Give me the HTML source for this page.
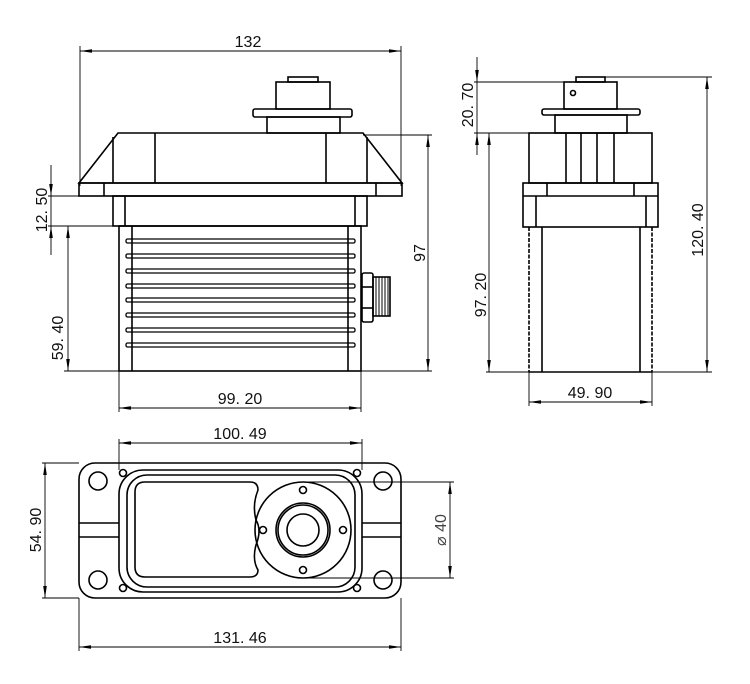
<!DOCTYPE html>
<html><head><meta charset="utf-8"><style>
html,body{margin:0;padding:0;background:#fff}
svg{display:block}
text{font-family:"Liberation Sans","DejaVu Sans",sans-serif;font-size:16px;fill:#111}
</style></head><body>
<svg width="750" height="684" viewBox="0 0 750 684" xmlns="http://www.w3.org/2000/svg">
<defs>
<marker id="a" viewBox="0 0 12 6" refX="12" refY="3" markerWidth="12" markerHeight="6" orient="auto-start-reverse" markerUnits="userSpaceOnUse"><path d="M0,1.2 L12,3 L0,4.8 Z" fill="#000"/></marker>
</defs>
<g fill="none" stroke="#000" stroke-width="1.6">
<!-- FRONT VIEW -->
<rect x="288" y="77" width="30" height="5"/>
<rect x="276" y="82" width="54" height="27"/>
<rect x="253" y="109" width="99" height="8" rx="2"/>
<rect x="267" y="117" width="73" height="16"/>
<path d="M118,133 L363,133 L402,183 L79,183 Z"/>
<line x1="113" y1="137" x2="113" y2="183"/><line x1="155" y1="133" x2="155" y2="183"/>
<line x1="326" y1="133" x2="326" y2="183"/><line x1="367" y1="137" x2="367" y2="183"/>
<rect x="79" y="183" width="323" height="13"/>
<line x1="104" y1="183" x2="104" y2="196"/><line x1="376" y1="183" x2="376" y2="196"/>
<rect x="113" y="196" width="254" height="30"/>
<line x1="125" y1="196" x2="125" y2="226"/><line x1="355" y1="196" x2="355" y2="226"/>
<rect x="119" y="226" width="242" height="145"/>
<line x1="132" y1="226" x2="132" y2="371"/><line x1="348" y1="226" x2="348" y2="371"/>
<g stroke-width="1.3">
<rect x="126" y="239" width="229" height="4" rx="1.5"/>
<rect x="126" y="254" width="229" height="4" rx="1.5"/>
<rect x="126" y="269" width="229" height="4" rx="1.5"/>
<rect x="126" y="284" width="229" height="4" rx="1.5"/>
<rect x="126" y="298" width="229" height="4" rx="1.5"/>
<rect x="126" y="313" width="229" height="4" rx="1.5"/>
<rect x="126" y="328" width="229" height="4" rx="1.5"/>
<rect x="126" y="343" width="229" height="4" rx="1.5"/>
</g>
<rect x="362" y="273" width="11" height="49" rx="2"/>
<line x1="362" y1="287" x2="373" y2="287"/><line x1="362" y1="308" x2="373" y2="308"/>
<rect x="373" y="277" width="17" height="39"/>
<g stroke-width="1">
<line x1="376" y1="277" x2="376" y2="316"/><line x1="379" y1="277" x2="379" y2="316"/>
<line x1="382" y1="277" x2="382" y2="316"/><line x1="385" y1="277" x2="385" y2="316"/>
<line x1="388" y1="277" x2="388" y2="316"/>
</g>
<!-- SIDE VIEW -->
<rect x="576" y="77" width="29" height="5"/>
<rect x="564" y="82" width="53" height="27"/>
<circle cx="573" cy="93" r="2.5"/>
<rect x="542" y="109" width="98" height="6" rx="2"/>
<rect x="555" y="115" width="72" height="18"/>
<rect x="529" y="133" width="123" height="50"/>
<line x1="566" y1="133" x2="566" y2="183"/><line x1="581" y1="133" x2="581" y2="183"/>
<line x1="597" y1="133" x2="597" y2="183"/><line x1="614" y1="133" x2="614" y2="183"/>
<rect x="523" y="183" width="135" height="44"/>
<line x1="523" y1="196" x2="658" y2="196"/>
<line x1="547" y1="183" x2="547" y2="196"/><line x1="634" y1="183" x2="634" y2="196"/>
<line x1="536" y1="196" x2="536" y2="227"/><line x1="646" y1="196" x2="646" y2="227"/>
<line x1="529" y1="372" x2="652" y2="372"/>
<line x1="529" y1="227" x2="529" y2="372" stroke-dasharray="4 1.5"/>
<line x1="652" y1="227" x2="652" y2="372" stroke-dasharray="4 1.5"/>
<line x1="542" y1="227" x2="542" y2="372"/><line x1="640" y1="227" x2="640" y2="372"/>
<!-- BOTTOM VIEW -->
<rect x="79" y="463" width="322" height="135" rx="16"/>
<circle cx="98" cy="481" r="9"/><circle cx="98" cy="580" r="9"/>
<circle cx="383" cy="481" r="9"/><circle cx="383" cy="580" r="9"/>
<circle cx="123" cy="473" r="3.5"/><circle cx="123" cy="588" r="3.5"/>
<circle cx="357" cy="473" r="3.5"/><circle cx="357" cy="588" r="3.5"/>
<rect x="119" y="470" width="243" height="122" rx="24"/>
<rect x="127" y="475" width="228" height="112" rx="20"/>
<path d="M145,482 L250,482 Q258,482 258,490 Q252,505 256,520 Q262,530 256,545 Q252,560 258,570 Q258,577 250,577 L145,577 Q135,577 135,567 L135,492 Q135,482 145,482 Z"/>
<line x1="79" y1="523" x2="119" y2="523"/><line x1="79" y1="537" x2="119" y2="537"/>
<line x1="362" y1="523" x2="401" y2="523"/><line x1="362" y1="537" x2="401" y2="537"/>
<circle cx="303" cy="530" r="48"/>
<circle cx="303" cy="530" r="27"/>
<circle cx="303" cy="530" r="25"/>
<circle cx="303" cy="530" r="16"/>
<circle cx="303" cy="490" r="3.5"/><circle cx="303" cy="570" r="3.5"/>
<circle cx="263" cy="530" r="3.5"/><circle cx="343" cy="530" r="3.5"/>
</g>
<!-- DIMENSIONS -->
<g fill="none" stroke="#000" stroke-width="0.9">
<line x1="80" y1="46" x2="80" y2="186"/><line x1="401" y1="46" x2="401" y2="186"/>
<line x1="80" y1="51" x2="401" y2="51" marker-start="url(#a)" marker-end="url(#a)"/>
<line x1="363" y1="135" x2="432" y2="135"/><line x1="361" y1="371" x2="432" y2="371"/>
<line x1="428" y1="135" x2="428" y2="371" marker-start="url(#a)" marker-end="url(#a)"/>
<line x1="119" y1="371" x2="119" y2="412"/><line x1="361" y1="371" x2="361" y2="412"/>
<line x1="119" y1="408" x2="361" y2="408" marker-start="url(#a)" marker-end="url(#a)"/>
<line x1="48" y1="196" x2="113" y2="196"/><line x1="48" y1="226" x2="119" y2="226"/>
<line x1="51" y1="165" x2="51" y2="196" marker-end="url(#a)"/>
<line x1="51" y1="255" x2="51" y2="226" marker-end="url(#a)"/>
<line x1="51" y1="196" x2="51" y2="226"/>
<line x1="64" y1="371" x2="119" y2="371"/>
<line x1="68" y1="226" x2="68" y2="371" marker-start="url(#a)" marker-end="url(#a)"/>
<line x1="474" y1="82" x2="564" y2="82"/>
<line x1="474" y1="133" x2="529" y2="133"/>
<line x1="605" y1="77" x2="712" y2="77"/>
<line x1="652" y1="372" x2="712" y2="372"/><line x1="486" y1="372" x2="529" y2="372"/>
<line x1="477" y1="57" x2="477" y2="82" marker-end="url(#a)"/>
<line x1="477" y1="155" x2="477" y2="133" marker-end="url(#a)"/>
<line x1="477" y1="82" x2="477" y2="133"/>
<line x1="489" y1="133" x2="489" y2="372" marker-start="url(#a)" marker-end="url(#a)"/>
<line x1="707" y1="77" x2="707" y2="372" marker-start="url(#a)" marker-end="url(#a)"/>
<line x1="529" y1="372" x2="529" y2="406"/><line x1="652" y1="372" x2="652" y2="406"/>
<line x1="529" y1="402" x2="652" y2="402" marker-start="url(#a)" marker-end="url(#a)"/>
<line x1="119" y1="439" x2="119" y2="470"/><line x1="362" y1="439" x2="362" y2="470"/>
<line x1="119" y1="443" x2="362" y2="443" marker-start="url(#a)" marker-end="url(#a)"/>
<line x1="42" y1="463" x2="79" y2="463"/><line x1="42" y1="598" x2="79" y2="598"/>
<line x1="45" y1="463" x2="45" y2="598" marker-start="url(#a)" marker-end="url(#a)"/>
<line x1="303" y1="482" x2="454" y2="482"/><line x1="303" y1="578" x2="454" y2="578"/>
<line x1="450" y1="482" x2="450" y2="578" marker-start="url(#a)" marker-end="url(#a)"/>
<line x1="79" y1="598" x2="79" y2="651"/><line x1="401" y1="598" x2="401" y2="651"/>
<line x1="79" y1="647" x2="401" y2="647" marker-start="url(#a)" marker-end="url(#a)"/>
</g>
<g text-anchor="middle">
<text x="248" y="47">132</text>
<text x="240" y="404">99. 20</text>
<text x="240" y="439">100. 49</text>
<text x="240" y="643">131. 46</text>
<text x="590" y="398">49. 90</text>
<text transform="translate(425,253) rotate(-90)">97</text>
<text transform="translate(47,210) rotate(-90)">12. 50</text>
<text transform="translate(63,338) rotate(-90)">59. 40</text>
<text transform="translate(473,105) rotate(-90)">20. 70</text>
<text transform="translate(486,295) rotate(-90)">97. 20</text>
<text transform="translate(703,230) rotate(-90)">120. 40</text>
<text transform="translate(41,530) rotate(-90)">54. 90</text>
<text transform="translate(446,530) rotate(-90)" style="fill:#444;font-size:16px">⌀ 40</text>
</g>
</svg>
</body></html>
